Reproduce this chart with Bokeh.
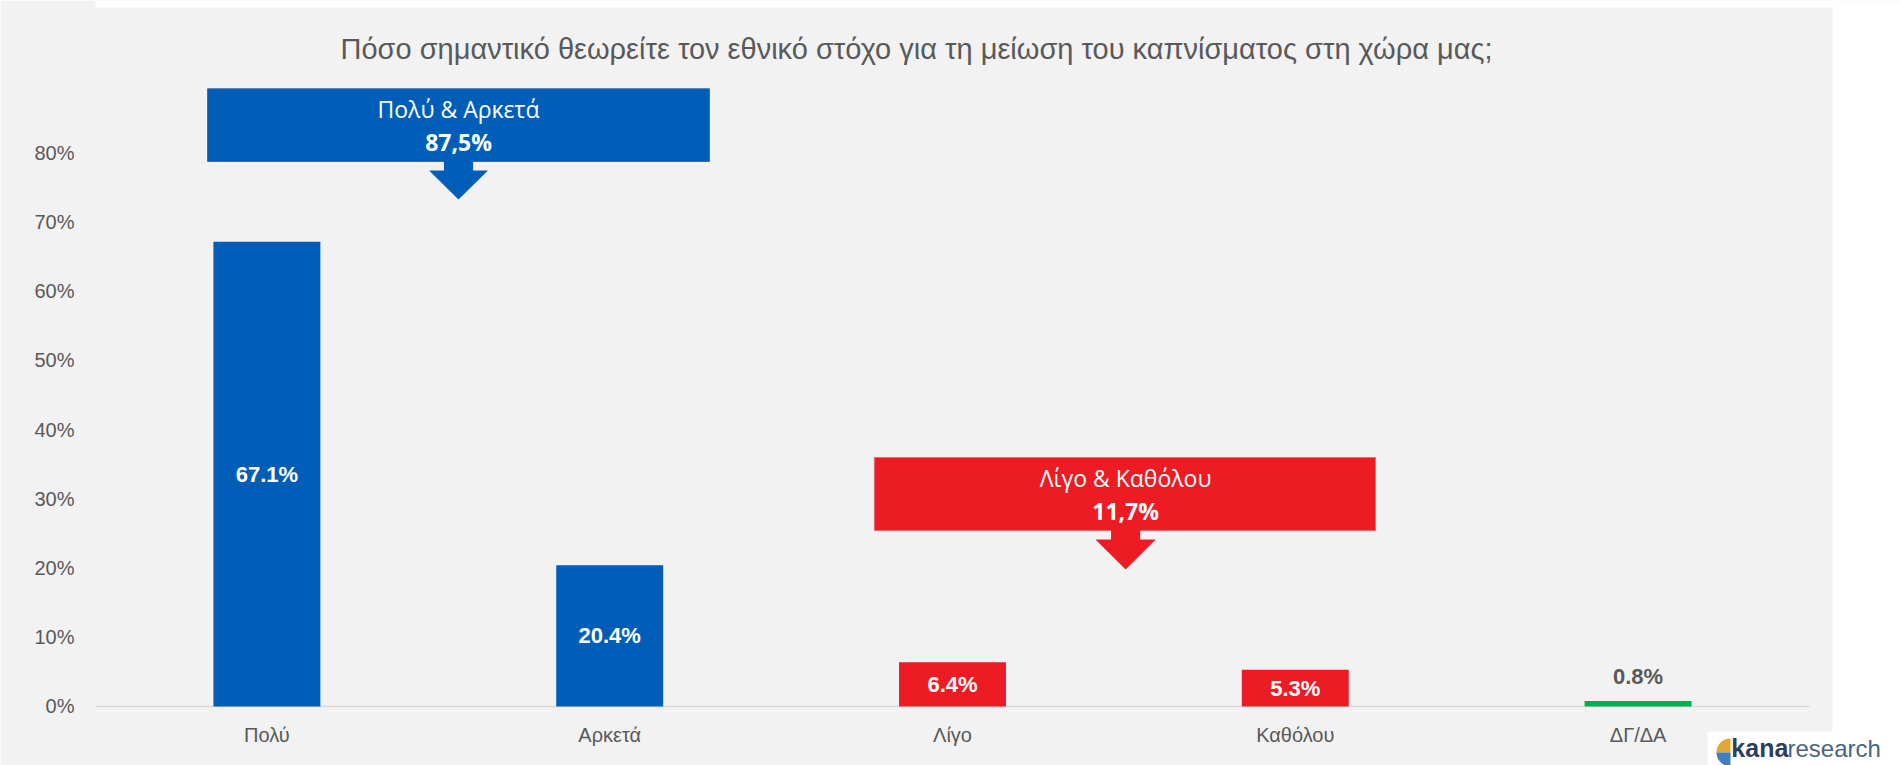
import math
from bokeh.plotting import figure
from bokeh.models import ColumnDataSource, FixedTicker, Range1d
from bokeh.core.properties import value
from bokeh.embed import file_html
from bokeh.resources import INLINE

# ---------------- data ----------------
categories = ["Πολύ", "Αρκετά", "Λίγο", "Καθόλου", "ΔΓ/ΔΑ"]
values = [67.1, 20.4, 6.4, 5.3, 0.8]
bar_colors = ["#005EB8", "#005EB8", "#ED1C24", "#ED1C24", "#00B050"]
value_labels = ["67.1%", "20.4%", "6.4%", "5.3%", "0.8%"]
y_ticks = [0, 10, 20, 30, 40, 50, 60, 70, 80]
y_tick_labels = ["0%", "10%", "20%", "30%", "40%", "50%", "60%", "70%", "80%"]
group_names = ["Πολύ & Αρκετά", "Λίγο & Καθόλου"]
group_totals = ["87,5%", "11,7%"]
group_colors = ["#005EB8", "#ED1C24"]
title_text = "Πόσο σημαντικό θεωρείτε τον εθνικό στόχο για τη μείωση του καπνίσματος στη χώρα μας;"

GRAY = "#595959"
PANEL = "#F2F2F2"

W, H = 1900, 765
X_END = 4.7655      # plot area runs to the right edge (white slide margin drawn inside)
Y_START, Y_END = -8.52, 101.95

p = figure(width=W, height=H, x_range=Range1d(-0.5, X_END), y_range=Range1d(Y_START, Y_END),
           output_backend="svg", toolbar_location=None, x_axis_location=None,
           min_border_left=95, min_border_right=0, min_border_top=0, min_border_bottom=0)
p.border_fill_color = PANEL
p.background_fill_color = PANEL
p.outline_line_color = None
p.xgrid.visible = False
p.ygrid.visible = False

xs = list(range(len(categories)))

# y axis
ya = p.yaxis[0]
ya.ticker = FixedTicker(ticks=y_ticks)
ya.major_label_overrides = {t: l for t, l in zip(y_ticks, y_tick_labels)}
ya.axis_line_color = None
ya.major_tick_line_color = None
ya.minor_tick_line_color = None
ya.major_label_standoff = 15
ya.major_label_text_font = "Liberation Sans"
ya.major_label_text_font_size = "20px"
ya.major_label_text_color = GRAY

# white slide margins (top and right) and the logo plate
p.quad(left=[-0.5], right=[X_END], bottom=[100.94], top=[Y_END], fill_color="white",
       line_color=None)
p.quad(left=[4.567], right=[X_END], bottom=[Y_START], top=[Y_END], fill_color="white",
       line_color=None)
p.quad(left=[4.2025], right=[X_END], bottom=[Y_START], top=[-3.61], fill_color="white",
       line_color=None)

# title
p.text(x=[0.2147], y=[95.0], text=[title_text], text_align="left", text_baseline="middle",
       text_font=value("Liberation Sans"), text_font_size="29px", text_color=GRAY)

# category axis (baseline + labels), drawn through the scales
p.segment(x0=[-0.5], x1=[4.5], y0=[0], y1=[0], line_color="#D9D9D9", line_width=1.5)
p.text(x=xs, y=[-4.05] * len(xs), text=categories, text_align="center", text_baseline="middle",
       text_font=value("Liberation Sans"), text_font_size="20px", text_color=GRAY)

# bars
src = ColumnDataSource(dict(x=xs, top=values, color=bar_colors, label=value_labels,
                            ly=[v / 2 if v > 3 else v + 3.5 for v in values],
                            lc=["white" if v > 3 else GRAY for v in values]))
p.vbar(x="x", top="top", bottom=0, width=0.312, fill_color="color", line_color=None, source=src)
p.text(x="x", y="ly", text="label", text_color="lc", text_align="center", text_baseline="middle",
       text_font=value("Liberation Sans"), text_font_style="bold", text_font_size="22px",
       source=src)

# group call-out boxes with arrows
boxes = [
    dict(left=-0.173, right=1.291, top=89.2, bottom=78.7, cx=0.559, stem=0.0425, head=0.086,
         stem_bottom=77.4, tip=73.2, line="#41699C"),
    dict(left=1.772, right=3.234, top=35.96, bottom=25.42, cx=2.505, stem=0.0425, head=0.088,
         stem_bottom=24.12, tip=19.78, line="#F06A70"),
]
for b, name, tot, col in zip(boxes, group_names, group_totals, group_colors):
    p.quad(left=[b["left"]], right=[b["right"]], top=[b["top"]], bottom=[b["bottom"]],
           fill_color=col, line_color=b["line"], line_width=1)
    cx, s, h = b["cx"], b["stem"], b["head"]
    px = [cx - s, cx - s, cx - h, cx, cx + h, cx + s, cx + s]
    py = [b["bottom"] + 0.3, b["stem_bottom"], b["stem_bottom"], b["tip"], b["stem_bottom"],
          b["stem_bottom"], b["bottom"] + 0.3]
    p.patch(px, py, fill_color=col, line_color=None)
    mid = (b["top"] + b["bottom"]) / 2
    p.text(x=[cx], y=[mid + 2.3], text=[name], text_color="white", text_align="center",
           text_baseline="middle", text_font=value("Open Sans"), text_font_size="23px")
    p.text(x=[cx], y=[mid - 2.4], text=[tot], text_color="white", text_align="center",
           text_baseline="middle", text_font=value("Open Sans"), text_font_style="bold",
           text_font_size="23px")

# logo: two quarter discs + wordmark
p.wedge(x=[4.2695], y=[-6.63], radius=14, radius_units="screen", start_angle=math.pi / 2,
        end_angle=math.pi, fill_color="#E3A72F", line_color=None)
p.wedge(x=[4.2695], y=[-6.63], radius=14, radius_units="screen", start_angle=math.pi,
        end_angle=3 * math.pi / 2, fill_color="#3F7FC0", line_color=None)
p.text(x=[4.272], y=[-6.0], text=["kana"], text_align="left", text_baseline="middle",
       text_font=value("Liberation Sans"), text_font_style="bold", text_font_size="25px",
       text_color="#2B3F5C")
p.text(x=[4.4358], y=[-6.0], text=["research"], text_align="left", text_baseline="middle",
       text_font=value("Liberation Sans"), text_font_size="24px", text_color="#4A6480")

open("out.html", "w").write(file_html(p, INLINE))
